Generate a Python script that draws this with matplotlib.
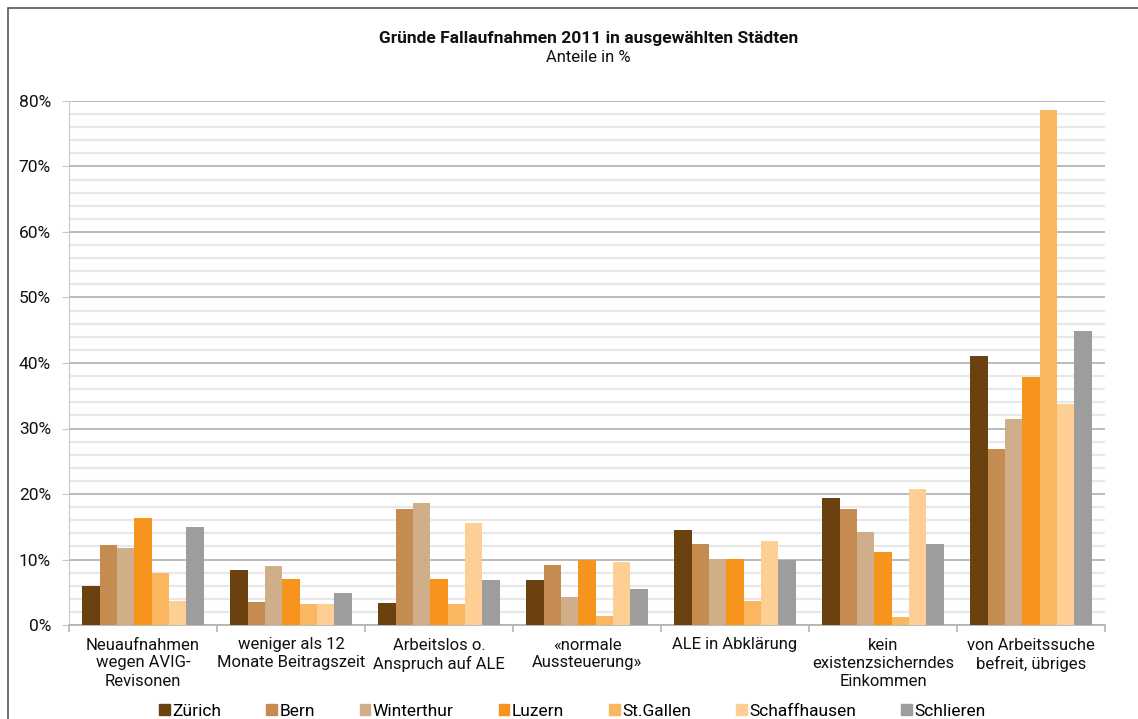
import matplotlib
matplotlib.use("Agg")
import matplotlib.pyplot as plt
import numpy as np
from matplotlib.patches import Rectangle
from matplotlib.ticker import MultipleLocator, FuncFormatter

plt.rcParams['font.family'] = ['Roboto', 'DejaVu Sans']

categories = ["Neuaufnahmen\nwegen AVIG-\nRevisonen",
              "weniger als 12\nMonate Beitragszeit",
              "Arbeitslos o.\nAnspruch auf ALE",
              "«normale\nAussteuerung»",
              "ALE in Abklärung",
              "kein\nexistenzsicherndes\nEinkommen",
              "von Arbeitssuche\nbefreit, übriges"]

cities = ["Zürich", "Bern", "Winterthur", "Luzern", "St.Gallen", "Schaffhausen", "Schlieren"]

zuerich      = [6.0, 8.4, 3.4, 6.9, 14.5, 19.4, 41.1]
bern         = [12.2, 3.5, 17.7, 9.2, 12.4, 17.7, 26.9]
winterthur   = [11.8, 9.0, 18.6, 4.3, 10.1, 14.2, 31.4]
luzern       = [16.3, 7.0, 7.0, 10.0, 10.1, 11.1, 37.9]
stgallen     = [7.9, 3.2, 3.2, 1.4, 3.7, 1.2, 78.6]
schaffhausen = [3.7, 3.2, 15.6, 9.6, 12.8, 20.8, 33.8]
schlieren    = [15.0, 4.9, 6.9, 5.5, 10.0, 12.4, 44.9]

series = [zuerich, bern, winterthur, luzern, stgallen, schaffhausen, schlieren]
colors = ["#6B420F", "#C48C50", "#D0AE8A", "#F7941E", "#FBB760", "#FDCF94", "#9D9D9E"]

W, H = 1138, 719
fig = plt.figure(figsize=(W/100, H/100), dpi=100)
ax = fig.add_axes([69/W, 1-625/H, (1105-69)/W, (625-101)/H])

# outer frame
fig.patches.append(Rectangle((8/W, -0.1), 1.2, 1-8/H+0.1, transform=fig.transFigure,
                             fill=False, edgecolor="#555555", linewidth=1.2))

n = len(cities)
x = np.arange(len(categories))
bw = 0.82 / n
for i, (vals, c) in enumerate(zip(series, colors)):
    ax.bar(x - 0.41 + bw*(i+0.5), vals, width=bw, color=c, label=cities[i], zorder=3)

ax.set_xlim(-0.5, len(categories)-0.5)
ax.set_ylim(0, 80)
ax.yaxis.set_major_locator(MultipleLocator(10))
ax.yaxis.set_minor_locator(MultipleLocator(2))
ax.yaxis.set_major_formatter(FuncFormatter(lambda v, p: f"{int(v)}%"))
ax.grid(axis='y', which='major', color="#B5B5B5", linewidth=1.3, zorder=0)
ax.grid(axis='y', which='minor', color="#E8E8E8", linewidth=1.6, zorder=0)
ax.set_axisbelow(True)

for s in ['top', 'right']:
    ax.spines[s].set_visible(False)
ax.spines['left'].set_color("#C8C8C8")
ax.spines['bottom'].set_color("#B5B5B5")
ax.spines['bottom'].set_linewidth(1.3)

ax.set_xticks(np.arange(len(categories)+1) - 0.5, minor=False)
ax.set_xticklabels([])
ax.tick_params(axis='x', which='major', length=5, color="#B5B5B5", width=1.2)
ax.set_xticks(x, minor=True)
ax.set_xticklabels(categories, minor=True, fontsize=12, color="#111111", linespacing=1.25)
ax.tick_params(axis='x', which='minor', length=0, pad=9)
ax.tick_params(axis='y', which='major', length=5, color="#C8C8C8", labelsize=12.5, pad=8, labelcolor="#111111")
ax.tick_params(axis='y', which='minor', length=0)

fig.text(0.517, 1-38/H, "Gründe Fallaufnahmen 2011 in ausgewählten Städten",
         ha='center', va='center', fontsize=12.5, fontweight='bold', color="#111111")
fig.text(0.517, 1-58/H, "Anteile in %", ha='center', va='center', fontsize=12, color="#111111")

handles = [Rectangle((0, 0), 1, 1, color=c) for c in colors]
leg = fig.legend(handles, cities, loc='center', bbox_to_anchor=(0.503, 1-711/H), ncol=7,
                 frameon=False, fontsize=12.5, handlelength=0.6, handleheight=0.6,
                 handletextpad=0.15, columnspacing=2.6)

fig.savefig("out.png", dpi=100)
